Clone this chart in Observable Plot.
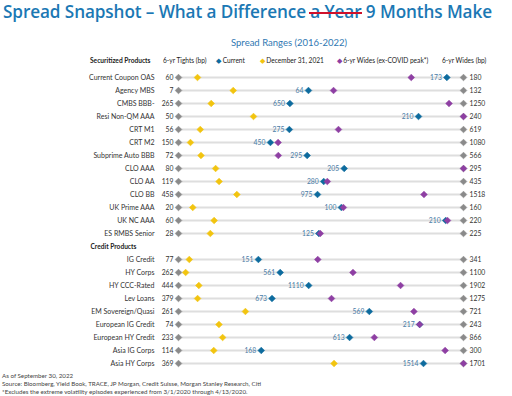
<!DOCTYPE html>
<html>
<head>
<meta charset="utf-8">
<script src="https://cdn.jsdelivr.net/npm/d3@7"></script>
<script src="https://cdn.jsdelivr.net/npm/@observablehq/plot@0.6"></script>
<style>
  html, body { margin: 0; padding: 0; background: #fff; }
  body { width: 512px; height: 396px; position: relative; overflow: hidden; font-family: Lato, "Open Sans", sans-serif; }
  #head { position: relative; height: 66px; }
  #title { position: absolute; left: 3px; top: 0px; font-family: "Open Sans", sans-serif; font-weight: 600; font-size: 19px; color: #1b78b4; white-space: nowrap; letter-spacing: -0.1px; }
  #title .strike { position: relative; }
  #title .strike::after { content: ""; position: absolute; left: -1px; right: 0px; top: 52%; height: 2.5px; background: #d0112b; }
  #subtitle { position: absolute; top: 37px; left: 231px; font-size: 9.5px; color: #2f78b2; white-space: nowrap; }
  .hdr { position: absolute; top: 56px; font-size: 6.6px; color: #222; white-space: nowrap; line-height: 8px; }
  .sw { font-size: 7px; }
  #chart { height: 306px; }
  #foot { font-size: 6.2px; color: #444; line-height: 7.8px; padding-left: 2px; padding-top: 0px; white-space: nowrap; }
</style>
</head>
<body>
<div id="head">
  <div id="title">Spread Snapshot – What a Difference <span class="strike">a Year</span> 9 Months Make</div>
  <div id="subtitle">Spread Ranges (2016-2022)</div>
  <div class="hdr" style="left:90px;font-weight:700">Securitized Products</div>
  <div class="hdr" style="left:163px">6-yr Tights (bp)</div>
  <div class="hdr" style="left:216px"><span class="sw" style="color:#0d6b9e">◆</span> Current</div>
  <div class="hdr" style="left:259.5px"><span class="sw" style="color:#f2c40f">◆</span> December 31, 2021</div>
  <div class="hdr" style="left:336.5px"><span class="sw" style="color:#8e3fa3">◆</span> 6-yr Wides (ex-COVID peak*)</div>
  <div class="hdr" style="left:442px">6-yr Wides (bp)</div>
</div>
<div id="chart"></div>
<div id="foot">
  <div>As of September 30, 2022</div>
  <div>Source: Bloomberg, Yield Book, TRACE, JP Morgan, Credit Suisse, Morgan Stanley Research, Citi</div>
  <div>*Excludes the extreme volatility episodes experienced from 3/1/2020 through 4/13/2020.</div>
</div>
<script>
// ---- Securitized products ----
const secNames   = ["Current Coupon OAS","Agency MBS","CMBS BBB-","Resi Non-QM AAA","CRT M1","CRT M2","Subprime Auto BBB","CLO AAA","CLO AA","CLO BB","UK Prime AAA","UK NC AAA","ES RMBS Senior"];
const secTights  = [60, 7, 265, 50, 56, 150, 72, 80, 119, 458, 20, 60, 28];
const secCurrent = [173, 64, 650, 210, 275, 450, 295, 205, 280, 975, 100, 210, 125];
const secDec21   = [68, 31, 378, 100, 99, 189, 111, 108, 164, 675, 27, 80, 50];
const secExCovid = [158, 75, 1200, 240, 372, 475, 245, 295, 284, 1371, 101, 211, 126];
const secWides   = [180, 132, 1250, 240, 619, 1080, 566, 295, 435, 1518, 160, 220, 225];

// ---- Credit products ----
const crNames   = ["IG Credit","HY Corps","HY CCC-Rated","Lev Loans","EM Sovereign/Quasi","European IG Credit","European HY Credit","Asia IG Corps","Asia HY Corps"];
const crTights  = [77, 262, 444, 379, 261, 74, 233, 114, 369];
const crCurrent = [151, 561, 1110, 673, 569, 217, 613, 168, 1514];
const crDec21   = [87, 283, 548, 439, 369, 98, 331, 137, 1096];
const crExCovid = [206, 775, 1580, 860, 641, 217, 668, 288, 1701];
const crWides   = [341, 1100, 1902, 1275, 721, 243, 866, 300, 1701];

const groupHeaders = ["Securitized Products", "Credit Products"];

function build(names, t, c, d, e, w) {
  return names.map((n, i) => {
    const norm = v => (v - t[i]) / (w[i] - t[i]);
    return { name: n, tight: t[i], wide: w[i], current: c[i],
      fT: norm(t[i]), fW: norm(w[i]), fC: norm(c[i]), fD: norm(d[i]), fE: norm(e[i]) };
  });
}
const rows = [...build(secNames, secTights, secCurrent, secDec21, secExCovid, secWides),
              ...build(crNames, crTights, crCurrent, crDec21, crExCovid, crWides)];
const yDomain = [...secNames, groupHeaders[1], ...crNames];

const C = { gray: "#8a8a8a", blue: "#0d6b9e", yellow: "#f2c40f", purple: "#8e3fa3", line: "#dedede" };
const dotOpts = (x, color) => ({ x, y: "name", symbol: "diamond2", r: 3, fill: color, stroke: color, strokeWidth: 0.6, strokeLinejoin: "round" });

const chart = Plot.plot({
  width: 512,
  height: 306,
  marginLeft: 178,
  marginRight: 49,
  marginTop: 7.3,
  marginBottom: 6,
  x: { domain: [0, 1], axis: null },
  y: { type: "point", domain: yDomain, padding: 0, axis: null },
  style: { fontFamily: "Lato, 'Open Sans', sans-serif", background: "transparent" },
  marks: [
    Plot.link(rows, { x1: "fT", x2: "fW", y1: "name", y2: "name", stroke: C.line, strokeWidth: 2 }),
    Plot.dot(rows, dotOpts("fT", C.gray)),
    Plot.dot(rows, dotOpts("fW", C.gray)),
    Plot.dot(rows, dotOpts("fD", C.yellow)),
    Plot.dot(rows, dotOpts("fC", C.blue)),
    Plot.dot(rows, dotOpts("fE", C.purple)),
    Plot.text(rows, { x: "fC", y: "name", text: d => String(d.current), dx: -5, textAnchor: "end", fill: "#4a7ca6", fontSize: 6.8 }),
    Plot.text(rows, { y: "name", text: "name", frameAnchor: "left", dx: -24, textAnchor: "end", fill: "#333", fontSize: 7 }),
    Plot.text(rows, { y: "name", text: d => String(d.tight), frameAnchor: "left", dx: -5, textAnchor: "end", fill: "#333", fontSize: 6.8 }),
    Plot.text(rows, { y: "name", text: d => String(d.wide), frameAnchor: "right", dx: 6, textAnchor: "start", fill: "#333", fontSize: 6.8 }),
    Plot.text([groupHeaders[1]], { y: d => d, text: d => d, frameAnchor: "left", dx: -88, textAnchor: "start", fill: "#222", fontSize: 6.6, fontWeight: 700 })
  ]
});
document.getElementById("chart").appendChild(chart);

// fit title width to the reference span (~490px)
const t = document.getElementById("title");
const tw = t.getBoundingClientRect().width;
if (tw > 0) t.style.fontSize = (19 * 490 / tw).toFixed(2) + "px";
</script>
</body>
</html>
